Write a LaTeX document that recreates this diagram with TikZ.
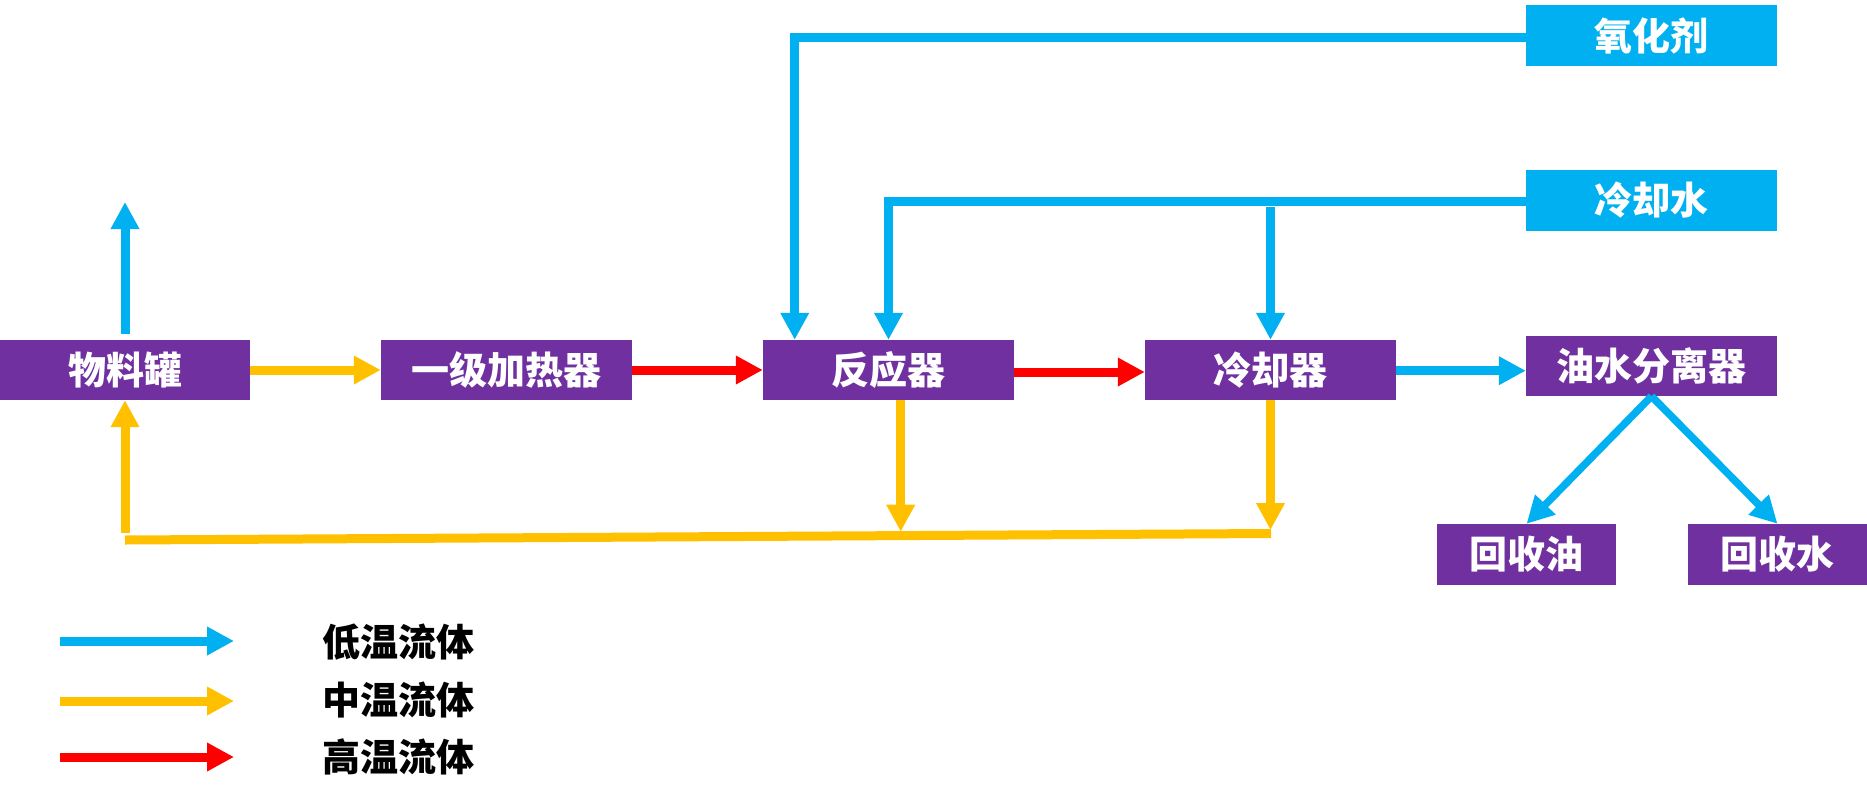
\documentclass[tikz,border=0pt]{standalone}
\usepackage{fontspec}
\newfontfamily\cjk{Noto Sans CJK SC}
\usetikzlibrary{arrows.meta,calc}
\definecolor{purp}{HTML}{7030A0}
\definecolor{cyn}{HTML}{00B0F0}
\definecolor{yel}{HTML}{FFC000}
\definecolor{hot}{HTML}{FF0000}
\begin{document}
\begin{tikzpicture}[x=1pt,y=-1pt,
  box/.style={fill=purp,text=white,inner sep=0pt,minimum width=251pt,minimum height=60pt,
    font=\cjk\bfseries\fontsize{38}{40}\selectfont},
  feedbox/.style={box,fill=cyn,minimum height=61pt},
  smallbox/.style={box,minimum width=179pt,minimum height=61pt},
  legtext/.style={inner sep=0pt,text=black,font=\cjk\bfseries\fontsize{38}{40}\selectfont},
  pipe/.style={line width=9pt,line join=miter,-{Triangle[length=27pt,width=27pt]}},
  cold/.style={pipe,draw=cyn},
  warm/.style={pipe,draw=yel},
  hotp/.style={pipe,draw=hot},
  plain/.style={line width=9pt,draw=yel}
]
\useasboundingbox (0,0) rectangle (1867,803);

% boxes
\node[box,minimum width=250pt] (tank)    at (125,370)    {物料罐};
\node[box]                     (heater)  at (506.5,370)  {一级加热器};
\node[box]                     (reactor) at (888.5,370)  {反应器};
\node[box]                     (cooler)  at (1270.5,370) {冷却器};
\node[box]                     (sep)     at (1651.5,366) {油水分离器};
\node[feedbox]                 (ox)      at (1651.5,35.5)  {氧化剂};
\node[feedbox]                 (cw)      at (1651.5,200.5) {冷却水};
\node[smallbox]                (oil)     at (1526.5,554.5) {回收油};
\node[smallbox]                (water)   at (1777.5,554.5) {回收水};

% helper coordinates
\coordinate (vbase) at ($(tank.north)+(0,-6)$);
\coordinate (vent)  at (125,202);
\coordinate (oxin)  at ($(reactor.north)+(-93.8,0)$);
\coordinate (cwb)   at ($(cooler.north)+(0,-133)$);
\coordinate (rout)  at ($(reactor.south)+(12.2,0)$);
\coordinate (cout)  at (cooler.south);
\coordinate (bl)    at (125,540);
\coordinate (br)    at (1271,533.5);
\coordinate (rtip)  at (900.7,531.7);
\coordinate (ctip)  at (1270.5,530);
\coordinate (tup)   at (125,533);

% main flow
\draw[cold] (vbase) -- (vent);
\draw[warm] (tank.east) -- (heater.west);
\draw[hotp] (heater.east) -- (reactor.west);
\draw[hotp] ($(reactor.east)+(0,2)$) -- ($(cooler.west)+(0,2)$);
\draw[cold] ($(cooler.east)+(0,0.7)$) -- ($(cooler.east -| sep.west)+(0,0.7)$);

% feeds
\draw[cold] ($(ox.west)+(0,1.5)$) -| (oxin);
\draw[cold] ($(cw.west)+(0,1)$) -| (reactor.north);
\draw[cold] (cwb) -- (cooler.north);

% returns
\draw[warm] (rout) -- (rtip);
\draw[warm] (cout) -- (ctip);
\draw[plain] (bl) -- (br);
\draw[warm] (tup) -- (tank.south);

% separator outputs
\draw[cold,line width=7.5pt] (sep.south) -- (oil.north);
\draw[cold,line width=7.5pt] (sep.south) -- (water.north);

% legend
\coordinate (l1a) at (60,641);  \coordinate (l1b) at (234,641);
\coordinate (l2a) at (60,701);  \coordinate (l2b) at (234,701);
\coordinate (l3a) at (60,757);  \coordinate (l3b) at (234,757);
\draw[cold] (l1a) -- (l1b);
\draw[warm] (l2a) -- (l2b);
\draw[hotp] (l3a) -- (l3b);
\node[legtext] (t1) at (398,642) {低温流体};
\node[legtext] (t2) at (398,700) {中温流体};
\node[legtext] (t3) at (398,757) {高温流体};
\end{tikzpicture}
\end{document}
